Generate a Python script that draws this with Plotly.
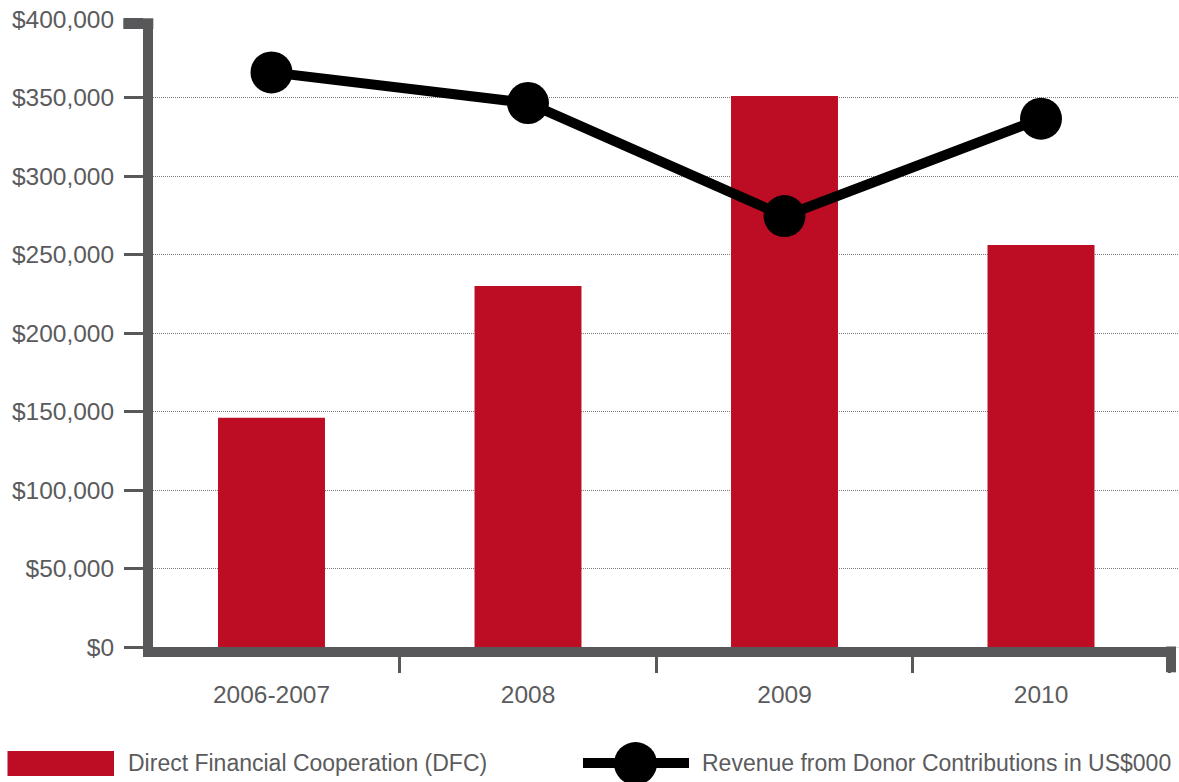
import plotly.graph_objects as go

# Chart data
years = ["2006-2007", "2008", "2009", "2010"]
dfc = [146000, 230000, 351000, 256000]
donor_revenue = [366000, 346500, 274500, 336500]

y_tick_values = [0, 50000, 100000, 150000, 200000, 250000, 300000, 350000, 400000]
y_tick_labels = ["$0", "$50,000", "$100,000", "$150,000", "$200,000",
                 "$250,000", "$300,000", "$350,000", "$400,000"]

legend_labels = ["Direct Financial Cooperation (DFC)",
                 "Revenue from Donor Contributions in US$000"]

# Styling
RED = "#bd0d24"
AXIS = "#58585a"
TEXT = "#5b5b5d"
GRID = "#7a7a7a"
FONT = "Liberation Sans, Arial, Helvetica, sans-serif"
FS_LEGEND = 23
FS_TICK = 24.5

W, H = 1179, 782
ML, MR, MT, MB = 153, 0, 19, 135
PW = W - ML - MR
PH = H - MT - MB


def px_x(px):
    return (px - ML) / PW


def px_y(py):
    return (H - MB - py) / PH


fig = go.Figure()

fig.add_trace(go.Bar(
    x=years, y=dfc, width=0.417, name=legend_labels[0],
    marker=dict(color=RED, line=dict(width=0)),
))

fig.add_trace(go.Scatter(
    x=years, y=donor_revenue, mode="lines+markers", name=legend_labels[1],
    line=dict(color="black", width=10),
    marker=dict(size=42, color="black", line=dict(width=0)),
))

shapes = []
# thick cap at the top of the value axis
shapes.append(dict(type="rect", xref="paper", yref="paper",
                   x0=px_x(123.3), x1=px_x(153.3), y0=px_y(29), y1=px_y(18.3),
                   fillcolor=AXIS, line=dict(width=0), layer="above"))
# thick end piece at the right of the category axis
shapes.append(dict(type="rect", xref="paper", yref="paper",
                   x0=px_x(1166), x1=px_x(1176), y0=px_y(672.3), y1=px_y(646.5),
                   fillcolor=AXIS, line=dict(width=0), layer="above"))
# trim the category axis line beyond the end piece
shapes.append(dict(type="rect", xref="paper", yref="paper",
                   x0=px_x(1176), x1=px_x(1180), y0=px_y(658), y1=px_y(647.2),
                   fillcolor="white", line=dict(width=0), layer="above"))

# legend swatches
shapes.append(dict(type="rect", xref="paper", yref="paper",
                   x0=px_x(7.5), x1=px_x(114), y0=px_y(776), y1=px_y(751),
                   fillcolor=RED, line=dict(width=0)))
shapes.append(dict(type="line", xref="paper", yref="paper",
                   x0=px_x(583), x1=px_x(689), y0=px_y(763), y1=px_y(763),
                   line=dict(color="black", width=10)))
shapes.append(dict(type="circle", xref="paper", yref="paper",
                   x0=px_x(614), x1=px_x(657), y0=px_y(785), y1=px_y(742),
                   fillcolor="black", line=dict(width=0)))

annotations = [
    dict(text=legend_labels[0], xref="paper", yref="paper",
         x=px_x(126), y=px_y(763), xanchor="left", yanchor="middle",
         showarrow=False, font=dict(family=FONT, size=FS_LEGEND, color=TEXT)),
    dict(text=legend_labels[1], xref="paper", yref="paper",
         x=px_x(700), y=px_y(763), xanchor="left", yanchor="middle",
         showarrow=False, font=dict(family=FONT, size=FS_LEGEND, color=TEXT)),
]

fig.update_layout(
    width=W, height=H,
    margin=dict(l=ML, r=MR, t=MT, b=MB, pad=0),
    paper_bgcolor="white", plot_bgcolor="white",
    showlegend=False,
    font=dict(family=FONT, size=FS_TICK, color=TEXT),
    shapes=shapes, annotations=annotations,
    xaxis=dict(
        type="category", range=[-0.462, 3.538],
        showline=True, linewidth=10, linecolor=AXIS,
        ticks="outside", tickson="boundaries", ticklen=16, tickwidth=2.5,
        tickcolor=AXIS, showgrid=False, zeroline=False,
        ticklabelstandoff=17,
        tickfont=dict(family=FONT, size=FS_TICK, color=TEXT),
    ),
    yaxis=dict(
        range=[0, 400000], tickvals=y_tick_values, ticktext=y_tick_labels,
        showline=True, linewidth=10, linecolor=AXIS,
        ticks="outside", ticklen=19, tickwidth=3, tickcolor=AXIS,
        showgrid=True, gridcolor=GRID, griddash="1px,1px", gridwidth=1,
        zeroline=False, ticklabelstandoff=5,
        tickfont=dict(family=FONT, size=FS_TICK, color=TEXT),
    ),
)

fig.write_html("out.html")
